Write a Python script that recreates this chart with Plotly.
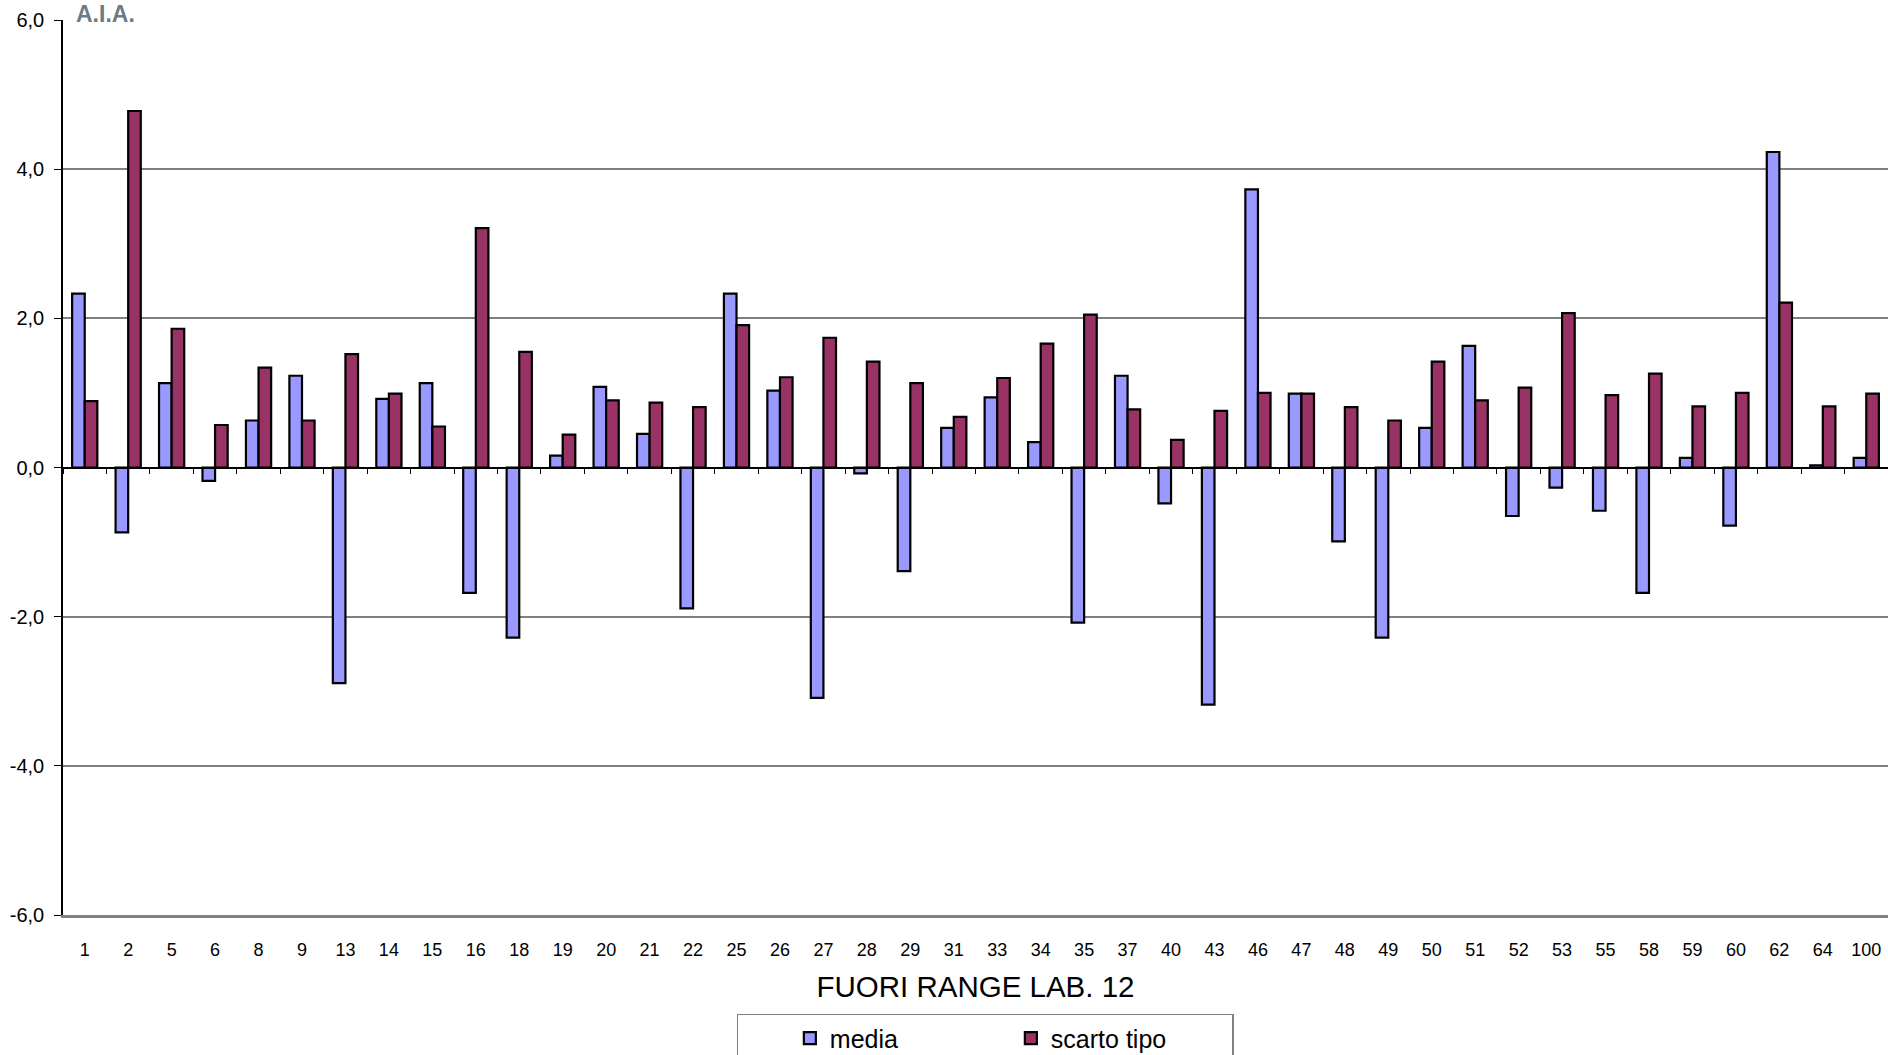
import plotly.graph_objects as go

categories = ["1", "2", "5", "6", "8", "9", "13", "14", "15", "16", "18", "19", "20", "21",
              "22", "25", "26", "27", "28", "29", "31", "33", "34", "35", "37", "40", "43",
              "46", "47", "48", "49", "50", "51", "52", "53", "55", "58", "59", "60", "62",
              "64", "100"]
media = [2.33, -0.87, 1.13, -0.18, 0.63, 1.23, -2.89, 0.92, 1.13, -1.68, -2.28, 0.16, 1.08, 0.45,
         -1.89, 2.33, 1.03, -3.09, -0.08, -1.39, 0.53, 0.94, 0.34, -2.08, 1.23, -0.48, -3.18,
         3.73, 0.99, -0.99, -2.28, 0.53, 1.63, -0.65, -0.27, -0.58, -1.68, 0.13, -0.78, 4.23,
         0.03, 0.13]
scarto_tipo = [0.89, 4.78, 1.86, 0.57, 1.34, 0.63, 1.52, 0.99, 0.55, 3.21, 1.55, 0.44, 0.90, 0.87,
               0.81, 1.91, 1.21, 1.74, 1.42, 1.13, 0.68, 1.20, 1.66, 2.05, 0.78, 0.37, 0.76,
               1.00, 0.99, 0.81, 0.63, 1.42, 0.90, 1.07, 2.07, 0.97, 1.26, 0.82, 1.00, 2.21,
               0.82, 0.99]
y_ticks = [-6, -4, -2, 0, 2, 4, 6]
y_tick_labels = ["-6,0", "-4,0", "-2,0", "0,0", "2,0", "4,0", "6,0"]

FONT = "Liberation Sans, Arial, sans-serif"

fig = go.Figure()
fig.add_trace(go.Bar(x=categories, y=media, name="media",
                     marker=dict(color="#9999FF", line=dict(color="black", width=2.2)),
                     hoverinfo="x+y"))
fig.add_trace(go.Bar(x=categories, y=scarto_tipo, name="scarto tipo",
                     marker=dict(color="#993366", line=dict(color="black", width=2.2)),
                     hoverinfo="x+y"))
# invisible helper trace for the category axis drawn at y = 0
fig.add_trace(go.Scatter(x=categories, y=[0] * len(categories), xaxis="x2", mode="none",
                         showlegend=False, hoverinfo="skip"))

fig.update_layout(
    width=1888, height=1055,
    margin=dict(l=63, r=0, t=20, b=140, pad=0),
    paper_bgcolor="white", plot_bgcolor="white",
    separators=",.",
    font=dict(family=FONT, color="black", size=18),
    barmode="group", bargap=0.42, bargroupgap=0,
    showlegend=True,
    legend=dict(orientation="h", x=0.5053, xanchor="center", yref="container", y=0.039,
                yanchor="top",
                font=dict(size=25, family=FONT), bordercolor="#808080", borderwidth=1.5,
                entrywidth=176, itemwidth=30, traceorder="normal", bgcolor="white",
                title=dict(text="&nbsp;" * 6, side="left", font=dict(size=25))),
    xaxis=dict(type="category", categoryorder="array", categoryarray=categories,
               showgrid=False, zeroline=False, showline=True, linecolor="#808080", linewidth=3,
               ticks="", tickfont=dict(size=18), ticklabelstandoff=16,
               title=dict(text="FUORI RANGE LAB. 12", font=dict(size=29.5), standoff=18)),
    xaxis2=dict(type="category", categoryorder="array", categoryarray=categories,
                overlaying="x", anchor="free", position=0.5, side="bottom",
                showgrid=False, zeroline=False, showline=True, linecolor="black", linewidth=1.5,
                ticks="outside", tickson="boundaries", ticklen=6, tickcolor="black", tickwidth=1.2,
                showticklabels=False, matches="x"),
    yaxis=dict(range=[-6, 6], tickvals=y_ticks, ticktext=y_tick_labels,
               showgrid=True, gridcolor="#808080", gridwidth=1.5,
               zeroline=False, showline=True, linecolor="black", linewidth=1.5,
               ticks="outside", ticklen=7, tickcolor="black", tickwidth=1.2,
               tickfont=dict(size=20), ticklabelstandoff=6),
)

fig.add_annotation(text="<b>A.I.A.</b>", xref="paper", yref="paper", x=0.0, y=1.0,
                   xanchor="left", yanchor="top", xshift=12, yshift=20,
                   showarrow=False, font=dict(size=23, color="#6E7B84", family=FONT),
                   bgcolor="white", borderpad=0)

fig.write_html("out.html", config={"displayModeBar": False},
               post_script="document.body.style.margin='0';document.body.style.overflow='hidden';")
